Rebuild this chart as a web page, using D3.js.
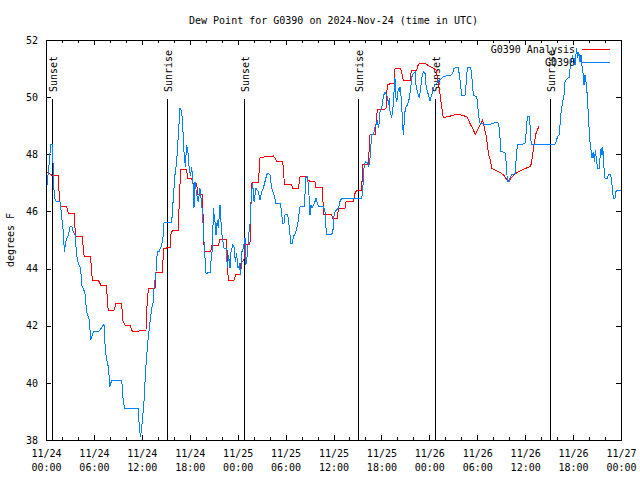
<!DOCTYPE html>
<html><head><meta charset="utf-8">
<script src="https://cdn.jsdelivr.net/npm/d3@7"></script>
<style>
body{margin:0;background:#fff}
svg{display:block}
text{font-family:"DejaVu Sans Mono",monospace;font-size:10px;fill:#000}
</style></head><body>
<svg id="c" width="640" height="480"></svg>
<script>
// ---- data (hours since 2024-11-24 00:00 UTC, values in degrees F) ----
const analysisHours = [0.00,0.71,1.54,1.67,1.84,2.59,2.80,3.55,3.63,3.76,4.59,4.67,4.80,5.59,5.72,5.84,6.55,6.76,6.85,7.60,7.68,7.80,8.51,8.77,9.48,9.60,9.89,10.52,10.73,10.85,11.56,11.77,12.52,12.69,12.86,13.65,13.69,14.61,14.69,15.53,15.61,15.86,16.57,16.70,16.86,17.61,17.74,18.24,18.36,18.87,18.99,19.62,19.70,19.83,20.62,20.75,21.58,21.79,22.62,22.75,22.83,23.54,23.79,24.29,24.38,24.79,24.92,25.54,25.67,25.80,26.59,26.80,28.47,28.68,28.88,29.64,29.80,29.88,30.76,30.88,31.60,31.81,32.64,32.85,33.68,33.81,34.64,34.73,35.77,35.89,36.48,36.61,37.44,37.57,38.48,38.65,38.90,39.53,39.65,40.36,40.57,41.20,41.49,42.57,42.74,43.58,43.70,44.41,44.58,44.74,45.58,45.74,46.41,46.62,46.83,47.46,47.75,48.08,48.50,48.84,49.04,49.17,49.33,49.54,49.75,50.38,51.21,51.63,52.26,52.68,53.09,53.51,53.76,54.14,54.43,54.68,54.85,55.10,55.27,55.43,55.60,55.81,56.23,56.64,57.06,57.47,57.76,58.02,58.18,58.60,59.02,59.43,59.85,60.27,60.69,60.81,60.94,61.11,61.36,61.52,61.77];
const analysisValues = [47.39,47.27,47.27,46.46,46.17,46.17,45.93,45.93,45.41,45.12,45.12,44.61,44.42,44.42,43.83,43.60,43.60,43.48,43.40,43.40,42.84,42.55,42.55,42.78,42.78,42.20,42.02,42.02,41.85,41.79,41.79,41.85,41.85,42.96,43.31,43.31,43.87,43.87,44.71,44.73,45.18,45.35,45.35,46.46,47.47,47.47,47.16,47.16,46.98,46.98,46.60,46.60,45.29,44.59,44.59,44.80,44.80,45.03,45.03,43.95,43.60,43.60,43.80,43.80,44.18,44.30,44.85,44.85,46.34,47.00,47.00,47.89,47.94,47.86,47.76,47.76,47.16,46.93,46.93,46.79,46.79,47.22,47.22,47.07,47.04,46.83,46.83,45.90,45.88,45.76,45.76,46.11,46.11,46.34,46.34,46.60,46.75,46.75,47.63,47.65,48.68,48.70,49.55,49.59,50.45,50.48,50.99,51.01,50.80,50.57,50.57,50.92,50.92,51.15,51.18,51.18,51.13,51.07,51.01,50.95,50.60,50.43,50.13,49.67,49.28,49.32,49.38,49.40,49.35,49.32,49.08,48.85,48.70,48.91,49.08,49.20,48.97,48.68,48.33,47.98,47.84,47.51,47.45,47.39,47.33,47.22,47.07,47.08,47.16,47.28,47.37,47.42,47.49,47.53,47.59,47.74,47.98,48.33,48.73,48.85,49.00];

const stationHours = [0.00,0.17,0.42,0.58,0.79,0.92,1.04,1.34,1.75,1.84,1.96,2.17,2.30,2.46,2.80,3.01,3.21,3.42,3.63,3.84,4.05,4.34,4.47,4.67,4.88,5.09,5.43,5.59,5.93,6.55,6.76,7.26,7.43,7.60,7.80,8.01,8.22,9.48,9.68,9.89,11.56,11.69,11.85,12.06,12.27,12.44,12.61,12.81,13.23,13.44,13.52,13.77,13.94,14.19,14.48,14.69,14.78,15.74,15.94,16.15,16.36,16.57,16.78,16.99,17.11,17.28,17.45,17.61,17.82,17.95,18.11,18.24,18.45,18.53,18.66,18.87,19.07,19.28,19.49,19.62,19.83,20.04,20.54,20.66,20.87,20.95,21.16,21.29,21.45,21.58,21.79,21.91,22.04,22.29,22.54,22.71,22.87,23.04,23.17,23.37,23.54,23.71,23.87,24.04,24.21,24.38,24.54,24.71,24.92,25.04,25.21,25.38,25.54,25.75,25.88,26.05,26.30,26.59,26.80,27.01,27.21,27.42,27.63,27.84,28.05,28.26,28.55,28.80,29.30,29.43,29.55,29.64,29.80,29.93,30.22,30.34,30.47,30.55,30.64,30.84,30.97,31.18,31.39,31.60,31.72,31.81,32.31,32.43,32.56,32.72,32.85,32.97,33.06,33.18,33.31,33.48,33.68,33.81,33.98,34.14,34.73,34.94,35.06,35.15,35.77,35.98,36.06,36.19,36.61,36.81,37.02,39.53,39.65,39.82,39.99,40.24,40.41,40.57,40.78,40.99,41.20,41.32,41.49,41.66,41.82,42.03,42.24,42.45,42.66,42.82,42.87,42.99,43.08,43.28,43.41,43.58,43.70,43.83,43.91,43.99,44.12,44.24,44.33,44.45,44.58,44.74,44.83,44.95,45.08,45.25,45.50,45.66,45.83,46.00,46.21,46.33,46.50,46.75,46.92,47.04,47.25,47.46,47.58,47.75,47.92,48.08,48.29,48.50,48.71,49.13,49.54,49.75,50.25,50.79,50.92,51.09,51.26,51.63,51.76,51.92,52.05,52.47,52.59,52.76,53.18,53.30,53.51,53.93,54.01,54.18,54.35,54.97,55.60,56.43,56.64,56.77,56.97,57.47,57.68,57.76,57.97,58.10,58.31,58.73,58.85,59.02,59.43,59.98,60.10,60.27,60.52,60.61,60.69,60.81,62.27,63.74,63.86,64.07,64.28,64.45,64.70,64.86,64.99,65.28,65.53,65.62,65.78,65.95,66.03,66.12,66.24,66.37,66.45,66.57,66.70,66.87,66.99,67.12,67.28,67.37,67.49,67.62,67.79,67.95,68.12,68.25,68.37,68.54,68.67,68.79,68.96,69.09,69.30,69.37,69.50,69.62,69.71,69.79,69.87,70.00,70.29,70.42,70.71,70.83,71.04,71.25,71.37,71.58,71.96];
const stationValues = [46.58,47.04,47.74,48.33,48.33,47.39,46.46,46.34,46.34,46.17,45.82,45.29,44.59,44.94,45.18,45.47,45.49,45.29,45.18,44.48,44.18,44.01,43.42,43.31,43.13,42.49,42.20,41.50,41.79,41.79,41.85,42.05,41.15,40.80,40.57,39.87,40.10,40.10,39.34,39.09,39.09,38.41,38.12,38.64,39.34,40.27,40.97,41.62,42.61,42.84,43.31,43.87,44.59,44.61,44.82,45.18,45.62,45.62,46.46,47.28,47.74,48.68,49.61,49.49,49.03,48.09,47.57,48.33,47.98,47.39,47.28,47.57,46.81,46.11,47.04,46.58,46.34,46.81,46.28,45.82,44.71,43.83,43.87,44.24,44.82,46.11,45.64,45.18,45.70,45.41,46.22,45.64,45.18,44.71,44.71,44.07,44.48,44.01,44.59,44.82,44.77,44.24,44.53,44.01,44.13,43.77,44.59,44.71,45.06,44.13,44.48,45.18,45.52,46.69,46.98,46.34,46.81,46.69,46.40,46.69,46.81,47.04,47.28,47.33,47.28,46.81,46.58,46.28,46.28,46.11,45.82,45.58,45.58,45.88,45.88,45.76,45.41,45.18,44.88,44.88,45.12,45.20,45.41,45.70,45.99,46.17,46.17,46.58,47.22,47.22,46.93,46.40,45.88,46.22,46.11,46.22,46.34,46.46,46.28,46.17,46.17,45.99,45.41,45.18,45.18,45.41,45.82,45.99,46.11,46.34,46.46,46.46,46.69,47.51,47.74,47.72,47.57,47.86,48.68,48.68,48.97,49.03,49.14,48.91,49.47,49.61,50.02,50.19,50.07,49.90,49.72,49.96,49.49,49.32,49.49,50.19,50.66,49.96,49.84,49.96,50.31,50.19,50.37,50.07,49.49,48.68,49.03,49.49,49.67,49.72,49.96,50.31,50.72,50.83,50.89,50.42,50.19,49.96,50.31,50.66,50.89,50.83,50.42,50.19,50.07,49.86,50.07,50.31,50.42,50.56,50.66,50.72,50.75,50.78,50.83,51.01,51.03,51.03,50.78,50.42,50.07,50.07,50.42,51.03,51.03,50.78,50.07,50.02,49.84,49.32,49.08,49.05,49.05,49.12,49.08,48.91,48.09,48.07,47.57,47.04,47.04,47.16,47.28,47.33,47.74,48.33,48.33,48.38,48.68,49.32,49.32,49.03,48.56,48.33,48.35,48.35,48.44,48.62,48.68,49.38,49.84,50.07,50.54,50.66,50.68,51.01,51.24,51.48,51.18,51.36,51.13,51.53,51.71,51.36,51.59,51.24,51.48,51.07,50.78,50.42,50.78,50.54,50.02,49.14,48.44,48.15,47.86,48.09,47.74,48.15,47.74,47.51,47.51,47.86,48.21,47.98,48.27,47.98,47.51,47.16,47.16,47.28,47.28,47.04,46.46,46.46,46.69,46.75,46.75];

const sunLabels = ["Sunset","Sunrise","Sunset","Sunrise","Sunset","Sunrise"];
const sunHours = [0.79,15.19,24.83,39.11,48.75,63.15];

const yTickValues = [38,40,42,44,46,48,50,52];
const seriesNames = ["G0390 Analysis","G0390"];
const seriesColors = ["#ff0000","#0080ff"];
const titleText = "Dew Point for G0390 on 2024-Nov-24 (time in UTC)";
const yLabelText = "degrees F";

// ---- chart ----
const start = Date.UTC(2024,10,24,0,0);
const end = Date.UTC(2024,10,27,0,0);
const toDate = h => new Date(start + h*3600e3);

const L=46, R=621, T=40, B=440;
const svg = d3.select("#c");
const x = d3.scaleUtc().domain([new Date(start), new Date(end)]).range([L,R]);
const y = d3.scaleLinear().domain([38,52]).range([B,T]);

const major = d3.utcHour.every(6).range(new Date(start), new Date(end+1));
const minor = d3.utcHour.every(2).range(new Date(start), new Date(end+1)).filter(d => d.getUTCHours()%6 !== 0);

const fmtDate = d3.utcFormat("%m/%d"), fmtTime = d3.utcFormat("%H:%M");

function styleAxis(g){ g.select(".domain").remove(); g.selectAll("line").attr("stroke","#000").attr("shape-rendering","crispEdges"); g.selectAll("text").attr("font-family",null).attr("font-size",null); }

// bottom major with labels
const gb = svg.append("g").attr("transform",`translate(0,${B})`)
  .call(d3.axisBottom(x).tickValues(major).tickSizeInner(-5).tickSizeOuter(0).tickPadding(10).tickFormat(""));
gb.call(styleAxis);
gb.selectAll(".tick text").each(function(d){
  const t = d3.select(this).attr("dy",null).attr("y",17);
  t.append("tspan").attr("x",0).text(fmtDate(d));
  t.append("tspan").attr("x",0).attr("dy",14).text(fmtTime(d));
});
svg.append("g").attr("transform",`translate(0,${B})`)
  .call(d3.axisBottom(x).tickValues(minor).tickSizeInner(-3).tickSizeOuter(0).tickFormat("")).call(styleAxis);
svg.append("g").attr("transform",`translate(0,${T})`)
  .call(d3.axisTop(x).tickValues(major).tickSizeInner(-5).tickSizeOuter(0).tickFormat("")).call(styleAxis);
svg.append("g").attr("transform",`translate(0,${T})`)
  .call(d3.axisTop(x).tickValues(minor).tickSizeInner(-3).tickSizeOuter(0).tickFormat("")).call(styleAxis);
svg.append("g").attr("transform",`translate(${L},0)`)
  .call(d3.axisLeft(y).tickValues(yTickValues).tickSizeInner(-5).tickSizeOuter(0).tickPadding(8).tickFormat(d3.format("d"))).call(styleAxis);
svg.append("g").attr("transform",`translate(${R},0)`)
  .call(d3.axisRight(y).tickValues(yTickValues).tickSizeInner(-5).tickSizeOuter(0).tickFormat("")).call(styleAxis);

// sunrise / sunset
const sg = svg.append("g");
sunHours.forEach((h,i)=>{
  const sx = Math.round(x(toDate(h)))+0.5;
  sg.append("line").attr("x1",sx).attr("x2",sx).attr("y1",99).attr("y2",B)
    .attr("stroke","#000").attr("shape-rendering","crispEdges");
  sg.append("text").attr("transform",`translate(${sx+4.5},92) rotate(-90)`).text(sunLabels[i]);
});

// series
const line = d3.line().x(d=>x(d.t)).y(d=>y(d.v));
const series = [
  analysisHours.map((h,i)=>({t:toDate(h), v:analysisValues[i]})),
  stationHours.map((h,i)=>({t:toDate(h), v:stationValues[i]}))
];
series.forEach((s,i)=>{
  svg.append("path").datum(s).attr("d",line).attr("fill","none")
    .attr("stroke",seriesColors[i]).attr("stroke-width",1).attr("shape-rendering","crispEdges");
});

// border
svg.append("rect").attr("x",L+0.5).attr("y",T+0.5).attr("width",R-L).attr("height",B-T)
  .attr("fill","none").attr("stroke","#000").attr("shape-rendering","crispEdges");

// legend
seriesNames.forEach((n,i)=>{
  const ly = 49.5 + i*13;
  svg.append("text").attr("x",575).attr("y",ly+3.5).attr("text-anchor","end").text(n);
  svg.append("line").attr("x1",582).attr("x2",610).attr("y1",ly).attr("y2",ly)
    .attr("stroke",seriesColors[i]).attr("shape-rendering","crispEdges");
});

// title, y label
svg.append("text").attr("x",(L+R)/2).attr("y",24).attr("text-anchor","middle").text(titleText);
svg.append("text").attr("transform","translate(13.5,240) rotate(-90)").attr("text-anchor","middle").text(yLabelText);
</script></body></html>
